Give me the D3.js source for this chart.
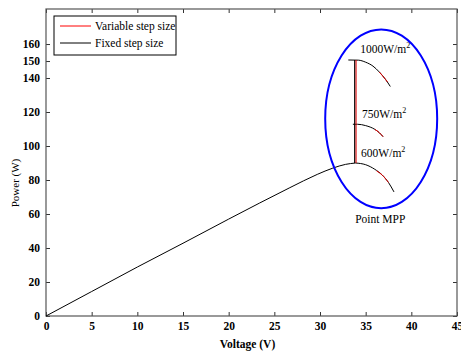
<!DOCTYPE html>
<html>
<head>
<meta charset="utf-8">
<script src="https://cdn.jsdelivr.net/npm/d3@7"></script>
<style>
  body { margin: 0; background: #fff; }
</style>
</head>
<body>
<script>
// Chart size
var svgWidth = 461;
var svgHeight = 354;
var serif = "'Liberation Serif', 'Times New Roman', serif";

var margin = { top: 9, right: 4, bottom: 38, left: 46 };
var width = svgWidth - margin.left - margin.right;
var height = svgHeight - margin.top - margin.bottom;

// Data: voltage (V) and power (W)
// main P-V curve up to the MPP at 600 W/m2 (fixed step)
var mainV = [0, 5, 10, 15, 20, 23.4, 26.7, 29.7, 31.4, 32.8, 33.9];
var mainP = [0, 14.4, 28.8, 42.8, 57, 66.5, 75.5, 83.3, 87, 89.2, 90];

// tails past the MPP for each irradiance (fixed step)
var tail600V = [33.9, 35, 36, 36.8, 37.5, 38.1];
var tail600P = [90, 89, 86.3, 83, 78.5, 73];
var tail750V = [33.6, 34.1, 35, 36, 36.5, 36.9];
var tail750P = [112.8, 112.8, 112, 109.8, 107.8, 105.5];
var tail1000V = [33.1, 34.2, 35, 35.8, 36.5, 37.2, 37.7];
var tail1000P = [150.6, 150.5, 149.3, 147, 143.5, 139, 135];

// MPP jump when irradiance steps up
var jumpFixedV = [33.8, 33.8, 33.8];
var jumpFixedP = [90, 112.8, 150.6];
var jumpVarV = [33.95, 33.95, 33.95];
var jumpVarP = [90, 112.8, 150.6];

// variable step pieces that show in red along the tails
var var600V = [36.2, 36.8, 37.5];
var var600P = [85.3, 83, 78.5];
var var750V = [36, 36.5, 36.9];
var var750P = [109.8, 107.8, 105.5];
var var1000V = [36.5, 37.2, 37.4];
var var1000P = [143.5, 139, 137.6];

var xTicks = [0, 5, 10, 15, 20, 25, 30, 35, 40, 45];
var yTicks = [0, 20, 40, 60, 80, 100, 120, 140, 150, 160];

var labels = [
  { text: "1000W/m", v: 34.4, p: 155 },
  { text: "750W/m", v: 34.6, p: 116.5 },
  { text: "600W/m", v: 34.5, p: 93.5 }
];
var legendNames = ["Variable step size", "Fixed step size"];
var legendColors = ["#ff0000", "#000000"];

function zip(vs, ps) { return vs.map(function(v, i) { return [v, ps[i]]; }); }

var svg = d3.select("body").append("svg")
  .attr("width", svgWidth)
  .attr("height", svgHeight);

svg.append("rect").attr("width", svgWidth).attr("height", svgHeight).attr("fill", "#fff");

var chartGroup = svg.append("g")
  .attr("transform", `translate(${margin.left}, ${margin.top})`);

var x = d3.scaleLinear().domain([0, 45]).range([0, width]);
var y = d3.scaleLinear().domain([0, 180.6]).range([height, 0]);

// axes with inward ticks like MATLAB
var tickStyle = function(g) {
  g.attr("font-family", serif);
  g.select(".domain").remove();
  g.selectAll("line").attr("stroke", "#333");
  g.selectAll("text")
    .style("font-family", serif)
    .style("font-size", "11.5px")
    .style("font-weight", "bold")
    .attr("fill", "#000");
};

chartGroup.append("g")
  .attr("transform", `translate(0, ${height})`)
  .call(d3.axisBottom(x).tickValues(xTicks).tickSizeInner(-4).tickPadding(6).tickFormat(d3.format("d")))
  .call(tickStyle);

chartGroup.append("g")
  .call(d3.axisLeft(y).tickValues(yTicks).tickSizeInner(-4).tickPadding(6).tickFormat(d3.format("d")))
  .call(tickStyle);

chartGroup.append("g")
  .call(d3.axisTop(x).tickValues(xTicks).tickSizeInner(-4).tickFormat(""))
  .call(tickStyle);

chartGroup.append("g")
  .attr("transform", `translate(${width}, 0)`)
  .call(d3.axisRight(y).tickValues(yTicks).tickSizeInner(-4).tickFormat(""))
  .call(tickStyle);

// box
chartGroup.append("rect")
  .attr("width", width)
  .attr("height", height)
  .attr("fill", "none")
  .attr("stroke", "#555")
  .attr("stroke-width", 1.2);

var line = d3.line().x(d => x(d[0])).y(d => y(d[1])).curve(d3.curveMonotoneX);
var vline = d3.line().x(d => x(d[0])).y(d => y(d[1]));

// fixed step (black)
[zip(mainV, mainP), zip(tail600V, tail600P), zip(tail750V, tail750P), zip(tail1000V, tail1000P)]
  .forEach(function(pts) {
    chartGroup.append("path")
      .attr("d", line(pts))
      .attr("fill", "none")
      .attr("stroke", "#000")
      .attr("stroke-width", 1);
  });

chartGroup.append("path")
  .attr("d", vline(zip(jumpFixedV, jumpFixedP)))
  .attr("fill", "none")
  .attr("stroke", "#000")
  .attr("stroke-width", 1.2);

// variable step (red)
chartGroup.append("path")
  .attr("d", vline(zip(jumpVarV, jumpVarP)))
  .attr("fill", "none")
  .attr("stroke", "#e00000")
  .attr("stroke-width", 1);

[zip(var600V, var600P), zip(var750V, var750P), zip(var1000V, var1000P)]
  .forEach(function(pts) {
    chartGroup.append("path")
      .attr("d", line(pts))
      .attr("fill", "none")
      .attr("stroke", "#e00000")
      .attr("stroke-width", 1);
  });

// irradiance labels
labels.forEach(function(l) {
  var t = chartGroup.append("text")
    .attr("x", x(l.v))
    .attr("y", y(l.p))
    .style("font-family", serif)
    .style("font-size", "11.5px")
    .attr("fill", "#000");
  t.append("tspan").text(l.text);
  t.append("tspan").attr("dy", -5).style("font-size", "8px").text("2");
});

// MPP ellipse
chartGroup.append("ellipse")
  .attr("cx", x(36.7))
  .attr("cy", y(116))
  .attr("rx", x(6.13) - x(0))
  .attr("ry", y(0) - y(52.6))
  .attr("fill", "none")
  .attr("stroke", "#0000ff")
  .attr("stroke-width", 2);

chartGroup.append("text")
  .attr("x", x(36.6))
  .attr("y", y(54.5))
  .attr("text-anchor", "middle")
  .style("font-family", serif)
  .style("font-size", "11.5px")
  .text("Point MPP");

// axis titles
svg.append("text")
  .attr("x", margin.left + width / 2 - 4)
  .attr("y", 348)
  .attr("text-anchor", "middle")
  .style("font-family", serif)
  .style("font-size", "11.5px")
  .style("font-weight", "bold")
  .text("Voltage (V)");

svg.append("text")
  .attr("transform", `translate(19, 183) rotate(-90)`)
  .attr("text-anchor", "middle")
  .style("font-family", serif)
  .style("font-size", "11px")
  .text("Power (W)");

// legend
var legend = svg.append("g").attr("transform", "translate(54, 16)");
legend.append("rect")
  .attr("width", 122)
  .attr("height", 39)
  .attr("fill", "#fff")
  .attr("stroke", "#000")
  .attr("stroke-width", 1);

legendNames.forEach(function(name, i) {
  var row = legend.append("g").attr("transform", `translate(0, ${10 + i * 17})`);
  row.append("line")
    .attr("x1", 6).attr("x2", 37)
    .attr("stroke", legendColors[i])
    .attr("stroke-width", 1);
  row.append("text")
    .attr("x", 41)
    .attr("y", 4)
    .style("font-family", serif)
    .style("font-size", "11.5px")
    .text(name);
});
</script>
</body>
</html>
